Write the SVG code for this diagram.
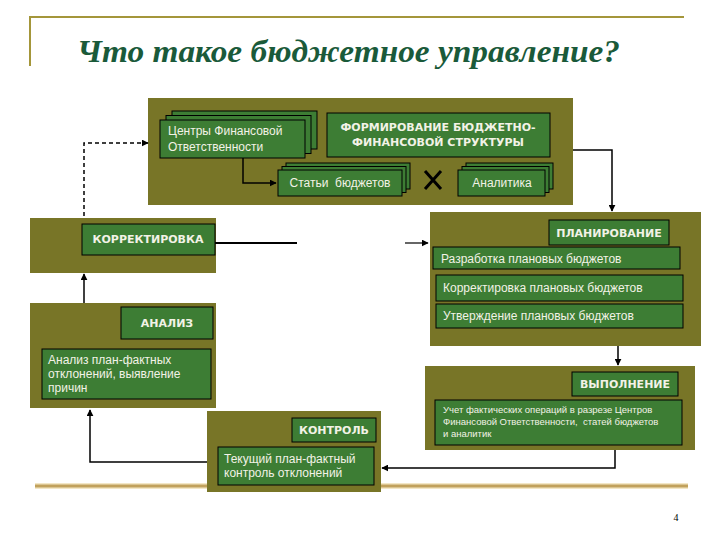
<svg xmlns="http://www.w3.org/2000/svg" width="720" height="540" viewBox="0 0 720 540">
<defs>
<marker id="arr" viewBox="0 0 10 10" refX="9" refY="5" markerWidth="7" markerHeight="7" orient="auto" markerUnits="userSpaceOnUse">
<path d="M0,0 L10,5 L0,10 z" fill="#000"/>
</marker>
<style>
.blk{fill:#787527;}
.box{fill:#3d7d34;stroke:#000;stroke-width:1;}
.t{font-family:"Liberation Sans",Arial,sans-serif;font-size:12px;fill:#f2f2e6;}
.ts{font-family:"Liberation Sans",Arial,sans-serif;font-size:9.5px;fill:#f2f2e6;}
.tb{font-family:"DejaVu Sans",Verdana,sans-serif;font-size:11px;font-weight:bold;fill:#f2f2e6;text-anchor:middle;}
.ln{stroke:#000;stroke-width:1.5;fill:none;}
</style>
</defs>
<rect width="720" height="540" fill="#fff"/>
<g id="frame">
<path d="M30,66 V17 H684" stroke="#a4963a" stroke-width="2" fill="none"/>
<line x1="35" y1="486" x2="688" y2="486" stroke="#f3e7c6" stroke-width="6"/>
<line x1="35" y1="486" x2="688" y2="486" stroke="#c1a15c" stroke-width="3"/>
<text x="77" y="62" font-family="'Liberation Serif','Times New Roman',serif" font-style="italic" font-weight="bold" font-size="32" fill="#1a5a3a" textLength="543" lengthAdjust="spacingAndGlyphs">Что такое бюджетное управление?</text>
<text x="676" y="521" font-family="'Liberation Serif',serif" font-size="10" fill="#000" text-anchor="middle">4</text>
</g>
<g id="structure">
<rect class="blk" x="148" y="98" width="425" height="107"/>
<rect class="box" x="172" y="111" width="145" height="38"/>
<rect class="box" x="166" y="115.5" width="145" height="38"/>
<rect class="box" x="160" y="120" width="145" height="38"/>
<text class="t" x="168" y="135">Центры Финансовой</text>
<text class="t" x="168" y="151">Ответственности</text>
<rect class="box" x="327" y="113" width="223" height="44"/>
<text class="tb" x="438" y="131">ФОРМИРОВАНИЕ БЮДЖЕТНО-</text>
<text class="tb" x="438" y="146">ФИНАНСОВОЙ СТРУКТУРЫ</text>
<rect class="box" x="286" y="163" width="124" height="26"/>
<rect class="box" x="282" y="166.5" width="124" height="26"/>
<rect class="box" x="278" y="170" width="124" height="26"/>
<text class="t" x="340" y="187" text-anchor="middle" xml:space="preserve">Статьи  бюджетов</text>
<rect class="box" x="466" y="163" width="87" height="26"/>
<rect class="box" x="462" y="166.5" width="87" height="26"/>
<rect class="box" x="458" y="170" width="87" height="26"/>
<text class="t" x="502" y="187" text-anchor="middle">Аналитика</text>
<path d="M425,171 L441,189 M441,171 L425,189" stroke="#000" stroke-width="3"/>
<path class="ln" d="M243,158 V183 H276" marker-end="url(#arr)"/>
</g>
<g id="korrektirovka">
<rect class="blk" x="30" y="218" width="186" height="55"/>
<rect class="box" x="82" y="224" width="133" height="31"/>
<text class="tb" x="148" y="243">КОРРЕКТИРОВКА</text>
</g>
<g id="planirovanie">
<rect class="blk" x="430" y="212" width="271" height="134"/>
<rect class="box" x="549" y="220" width="120" height="25"/>
<text class="tb" x="609" y="237">ПЛАНИРОВАНИЕ</text>
<rect class="box" x="433" y="247" width="247" height="22"/>
<text class="t" x="441" y="263">Разработка плановых бюджетов</text>
<rect class="box" x="436" y="275" width="247" height="26"/>
<text class="t" x="443" y="292">Корректировка плановых бюджетов</text>
<rect class="box" x="436" y="304" width="247" height="24"/>
<text class="t" x="443" y="320">Утверждение плановых бюджетов</text>
</g>
<g id="analiz">
<rect class="blk" x="30" y="303" width="186" height="105"/>
<rect class="box" x="121" y="307" width="92" height="32"/>
<text class="tb" x="167" y="327">АНАЛИЗ</text>
<rect class="box" x="42" y="349" width="169" height="50"/>
<text class="t" x="48" y="364">Анализ план-фактных</text>
<text class="t" x="48" y="378">отклонений, выявление</text>
<text class="t" x="48" y="392">причин</text>
</g>
<g id="vypolnenie">
<rect class="blk" x="425" y="366" width="270" height="84"/>
<rect class="box" x="572" y="372" width="106" height="24"/>
<text class="tb" x="625" y="388">ВЫПОЛНЕНИЕ</text>
<rect class="box" x="435" y="400" width="247" height="45"/>
<text class="ts" x="443" y="413">Учет фактических операций в разрезе Центров</text>
<text class="ts" x="443" y="425" xml:space="preserve">Финансовой Ответственности,  статей бюджетов</text>
<text class="ts" x="443" y="437">и аналитик</text>
</g>
<g id="kontrol">
<rect class="blk" x="207" y="411" width="174" height="81"/>
<rect class="box" x="292" y="418" width="84" height="24"/>
<text class="tb" x="334" y="434">КОНТРОЛЬ</text>
<rect class="box" x="218" y="447" width="156" height="38"/>
<text class="t" x="224" y="463">Текущий план-фактный</text>
<text class="t" x="224" y="477">контроль отклонений</text>
</g>
<g id="connectors">
<path class="ln" d="M84,216 V143 H148" stroke-dasharray="4,3" marker-end="url(#arr)"/>
<path class="ln" d="M573,150 H612 V211" marker-end="url(#arr)"/>
<line x1="215" y1="243" x2="297" y2="243" stroke="#000" stroke-width="1.8"/>
<line x1="405" y1="243" x2="428" y2="243" stroke="#000" stroke-width="1.2" marker-end="url(#arr)"/>
<path class="ln" d="M618,346 V365" marker-end="url(#arr)"/>
<path class="ln" d="M615,450 V468 H382" marker-end="url(#arr)"/>
<path class="ln" d="M207,462 H90 V410" marker-end="url(#arr)"/>
<path class="ln" d="M84,303 V274" marker-end="url(#arr)"/>
</g>
</svg>
